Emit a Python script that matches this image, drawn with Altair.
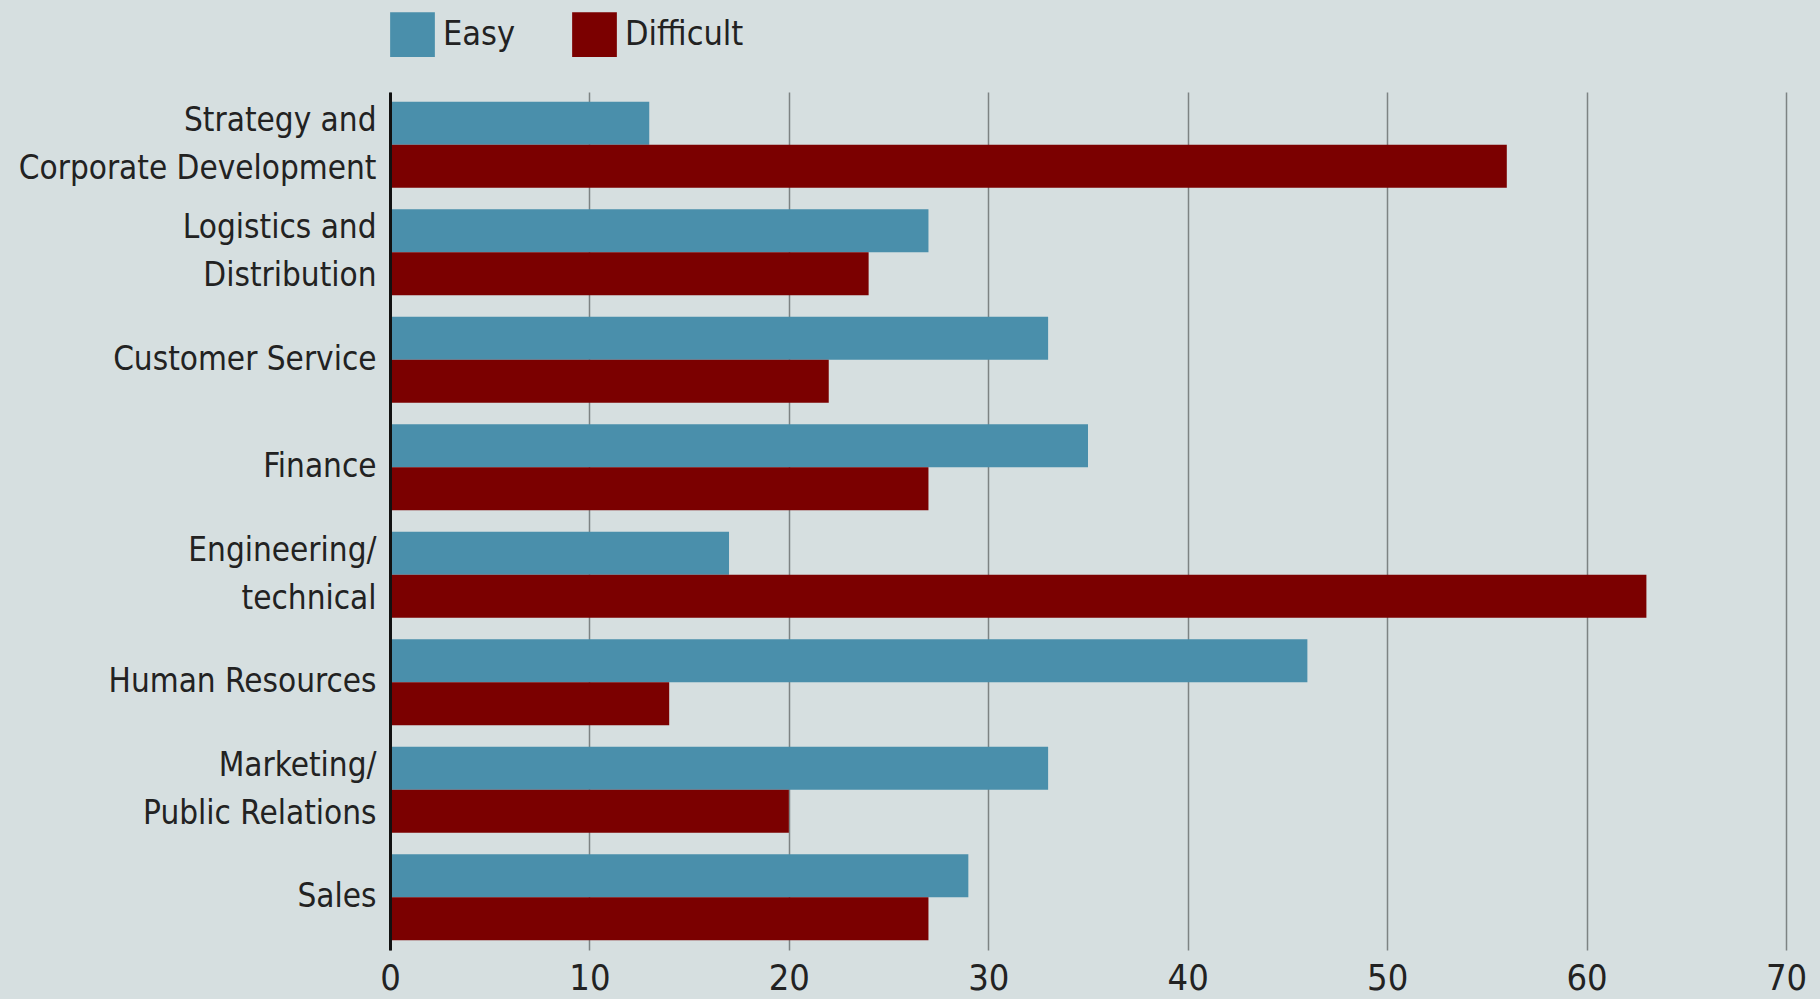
import altair as alt
import pandas as pd

categories = [
    "Strategy and|Corporate Development",
    "Logistics and|Distribution",
    "Customer Service",
    "Finance",
    "Engineering/|technical",
    "Human Resources",
    "Marketing/|Public Relations",
    "Sales",
]
easy = [13, 27, 33, 35, 17, 46, 33, 29]
difficult = [56, 24, 22, 27, 63, 14, 20, 27]
series = ["Easy", "Difficult"]
colors = ["#4a8fab", "#7b0000"]
x_ticks = [0, 10, 20, 30, 40, 50, 60, 70]

rows = []
for c, e, d in zip(categories, easy, difficult):
    rows.append({"category": c, "series": "Easy", "value": e})
    rows.append({"category": c, "series": "Difficult", "value": d})
df = pd.DataFrame(rows)

font = "DejaVu Sans Condensed"
text_color = "#222222"

chart = alt.Chart(df).mark_bar().encode(
    x=alt.X(
        "value:Q",
        scale=alt.Scale(domain=[0, 70], nice=False),
        axis=alt.Axis(
            values=x_ticks, title=None, grid=True, gridColor="#7d8383",
            gridWidth=1.5, domain=False, ticks=False, labelFontSize=36,
            labelFont=font, labelPadding=11, labelColor=text_color,
            labelFlush=False,
        ),
    ),
    y=alt.Y(
        "category:N", sort=categories,
        scale=alt.Scale(paddingInner=0.2, paddingOuter=0.09),
        axis=alt.Axis(
            title=None, ticks=False, domainColor="#111111", domainWidth=3,
            labelExpr="split(datum.label, '|')", labelFontSize=33,
            labelFont=font, labelLineHeight=48, labelPadding=14,
            labelColor=text_color, labelLimit=600, zindex=1,
            labelOffset={"condition": {"test": "indexof(datum.label, '|') >= 0", "value": -24}, "value": 0},
        ),
    ),
    yOffset=alt.YOffset("series:N", sort=series,
                        scale=alt.Scale(paddingInner=0, paddingOuter=0)),
    color=alt.Color(
        "series:N", sort=series,
        scale=alt.Scale(domain=series, range=colors),
        legend=alt.Legend(
            title=None, orient="none", legendX=0, legendY=-80,
            direction="horizontal", symbolType="square", symbolSize=2000,
            symbolStrokeWidth=0, symbolOpacity=1, labelFontSize=34, labelFont=font,
            labelOffset=8, columnPadding=56, labelColor=text_color,
        ),
    ),
).properties(
    width=1396, height=858,
    autosize=alt.AutoSizeParams(type="none"),
    padding={"left": 390, "top": 92, "right": 34, "bottom": 49},
    background="#d6dfe0",
).configure_view(strokeWidth=0)

chart.save("out.html", embed_options={"renderer": "svg", "actions": False})
